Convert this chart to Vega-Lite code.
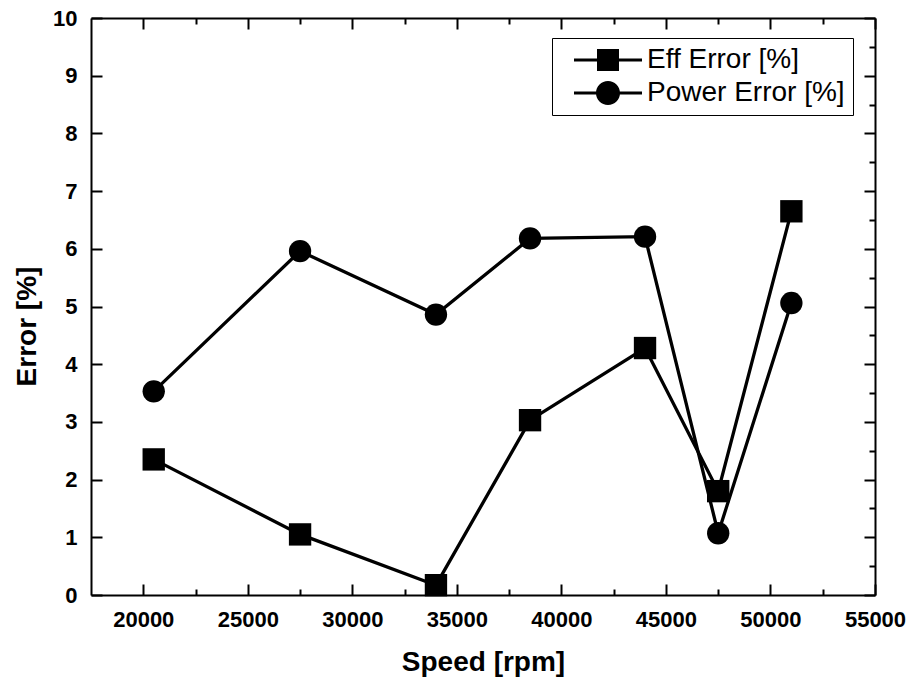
{
  "$schema": "https://vega.github.io/schema/vega-lite/v6.json",
  "width": 784,
  "height": 577,
  "autosize": "none",
  "padding": {"left": 91, "top": 18, "right": 32, "bottom": 86},
  "background": "white",
  "config": {
    "view": {"stroke": null},
    "font": "Liberation Sans",
    "axis": {
      "grid": false,
      "domainColor": "black",
      "domainWidth": 2,
      "tickColor": "black",
      "tickWidth": 2,
      "labelColor": "black",
      "labelFont": "Liberation Sans",
      "labelFontWeight": "bold",
      "labelFontSize": 22,
      "labelFlush": false,
      "labelOverlap": false,
      "titleColor": "black",
      "titleFont": "Liberation Sans",
      "titleFontWeight": "bold",
      "titleFontSize": 28
    }
  },
  "data": {
    "values": [
      {"series": "Eff Error [%]", "speed": 20500, "error": 2.35},
      {"series": "Eff Error [%]", "speed": 27500, "error": 1.05},
      {"series": "Eff Error [%]", "speed": 34000, "error": 0.17},
      {"series": "Eff Error [%]", "speed": 38500, "error": 3.03},
      {"series": "Eff Error [%]", "speed": 44000, "error": 4.28},
      {"series": "Eff Error [%]", "speed": 47500, "error": 1.8},
      {"series": "Eff Error [%]", "speed": 51000, "error": 6.65},
      {"series": "Power Error [%]", "speed": 20500, "error": 3.53},
      {"series": "Power Error [%]", "speed": 27500, "error": 5.96},
      {"series": "Power Error [%]", "speed": 34000, "error": 4.86},
      {"series": "Power Error [%]", "speed": 38500, "error": 6.18},
      {"series": "Power Error [%]", "speed": 44000, "error": 6.21},
      {"series": "Power Error [%]", "speed": 47500, "error": 1.07},
      {"series": "Power Error [%]", "speed": 51000, "error": 5.06}
    ]
  },
  "layer": [
    {
      "mark": {"type": "line", "color": "black", "strokeWidth": 3.3},
      "encoding": {
        "detail": {"field": "series"},
        "x": {
          "field": "speed",
          "type": "quantitative",
          "scale": {"domain": [17500, 55000], "nice": false, "zero": false},
          "axis": {
            "orient": "bottom",
            "title": "Speed [rpm]",
            "titlePadding": 13,
            "values": [20000, 22500, 25000, 27500, 30000, 32500, 35000, 37500, 40000, 42500, 45000, 47500, 50000, 52500, 55000],
            "format": "d",
            "labelExpr": "datum.value % 5000 === 0 ? datum.label : ''",
            "labelFontSize": 22,
            "tickSize": {"condition": {"test": "datum.value % 5000 === 0", "value": -11}, "value": -6},
            "labelPadding": 25
          }
        },
        "y": {
          "field": "error",
          "type": "quantitative",
          "scale": {"domain": [0, 10], "nice": false},
          "axis": {
            "orient": "left",
            "title": "Error [%]",
            "titlePadding": 11,
            "titleY": 308,
            "values": [0, 0.5, 1, 1.5, 2, 2.5, 3, 3.5, 4, 4.5, 5, 5.5, 6, 6.5, 7, 7.5, 8, 8.5, 9, 9.5, 10],
            "format": "d",
            "labelExpr": "datum.value % 1 === 0 ? datum.label : ''",
            "labelFontSize": 22,
            "tickSize": {"condition": {"test": "datum.value % 1 === 0", "value": -11}, "value": -6},
            "labelPadding": 25
          }
        }
      }
    },
    {
      "mark": {"type": "point", "filled": true, "color": "black", "opacity": 1, "size": 500},
      "encoding": {
        "x": {
          "field": "speed",
          "type": "quantitative",
          "axis": {
            "orient": "top",
            "title": null,
            "labels": false,
            "values": [20000, 22500, 25000, 27500, 30000, 32500, 35000, 37500, 40000, 42500, 45000, 47500, 50000, 52500, 55000],
            "tickSize": {"condition": {"test": "datum.value % 5000 === 0", "value": -11}, "value": -6}
          }
        },
        "y": {
          "field": "error",
          "type": "quantitative",
          "axis": {
            "orient": "right",
            "title": null,
            "labels": false,
            "values": [0, 0.5, 1, 1.5, 2, 2.5, 3, 3.5, 4, 4.5, 5, 5.5, 6, 6.5, 7, 7.5, 8, 8.5, 9, 9.5, 10],
            "tickSize": {"condition": {"test": "datum.value % 1 === 0", "value": -11}, "value": -6}
          }
        },
        "shape": {
          "field": "series",
          "type": "nominal",
          "scale": {"domain": ["Eff Error [%]", "Power Error [%]"], "range": ["square", "circle"]},
          "legend": null
        }
      }
    },
    {
      "transform": [{"filter": "false"}],
      "mark": {"type": "point", "filled": true, "color": "black", "opacity": 1},
      "encoding": {
        "x": {"field": "speed", "type": "quantitative", "axis": null},
        "y": {"field": "error", "type": "quantitative", "axis": null},
        "shape": {
          "field": "series",
          "type": "nominal",
          "scale": {
            "domain": ["Eff Error [%]", "Power Error [%]"],
            "range": [
              "M-3.4,-0.16H3.4V0.16H-3.4Z M-1.1,-1.1H1.1V1.1H-1.1Z",
              "M-3.4,-0.16H3.4V0.16H-3.4Z M-1.2,0A1.2,1.2,0,1,1,1.2,0A1.2,1.2,0,1,1,-1.2,0Z"
            ]
          },
          "legend": {
            "orient": "none",
            "legendX": 461,
            "legendY": 20,
            "title": null,
            "strokeColor": "black",
            "fillColor": "white",
            "padding": 8,
            "rowPadding": 5,
            "labelFont": "Liberation Sans",
            "labelFontSize": 28,
            "labelLimit": 400,
            "labelColor": "black",
            "labelOffset": 25,
            "symbolOffset": 34,
            "symbolSize": 400,
            "symbolStrokeWidth": 0,
            "symbolFillColor": "black",
            "symbolOpacity": 1,
            "encode": {
              "symbols": {
                "update": {
                  "fill": {"value": "black"},
                  "shape": {"signal": "datum.value === 'Eff Error [%]' ? 'M-3.4,-0.16H3.4V0.16H-3.4Z M-1.1,-1.1H1.1V1.1H-1.1Z' : 'M-3.4,-0.16H3.4V0.16H-3.4Z M-1.2,0A1.2,1.2,0,1,1,1.2,0A1.2,1.2,0,1,1,-1.2,0Z'"}
                }
              }
            }
          }
        }
      }
    }
  ],
  "resolve": {
    "axis": {"x": "independent", "y": "independent"},
    "scale": {"shape": "independent"}
  }
}
